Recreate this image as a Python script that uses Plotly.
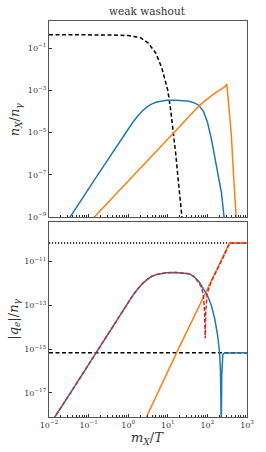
import numpy as np
import plotly.graph_objects as go

# ---- data (log10 values) ----
# top panel: n_X / n_gamma
eq_lx = [-2.0, -1.5, -1.0, -0.5, 0.0, 0.3, 0.5, 0.7, 0.85, 1.0, 1.07, 1.145, 1.2, 1.25, 1.31, 1.358, 1.40]
eq_ly = [-0.37, -0.37, -0.37, -0.38, -0.41, -0.5, -0.75, -1.25, -1.95, -3.0, -3.9, -5.0, -6.0, -7.0, -8.0, -9.0, -9.8]

blue_top_lx = [-1.52, -1.47, -1.1, -0.76, -0.5, -0.3, -0.15, -0.015, 0.1, 0.23, 0.35, 0.475, 0.6, 0.72, 0.85, 0.97, 1.21, 1.4, 1.54, 1.7, 1.78, 1.9, 2.0, 2.1, 2.19, 2.28, 2.355, 2.42, 2.45]
blue_top_ly = [-9.15, -9.0, -7.95, -6.98, -6.24, -5.68, -5.25, -4.87, -4.56, -4.24, -3.99, -3.79, -3.64, -3.555, -3.50, -3.475, -3.47, -3.49, -3.52, -3.62, -3.71, -4.0, -4.5, -5.3, -6.15, -7.0, -7.86, -9.0, -9.5]

orange_top_lx = [-0.9, -0.856, 1.21, 1.5, 1.78, 1.9, 2.05, 2.2, 2.35, 2.45, 2.49, 2.51, 2.55, 2.6, 2.66, 2.72, 2.74]
orange_top_ly = [-9.09, -9.0, -4.89, -4.3, -3.76, -3.55, -3.32, -3.12, -2.94, -2.82, -2.70, -3.2, -4.0, -5.0, -7.0, -9.0, -9.4]

# bottom panel: |q_e| / n_gamma
blue_bot_lx = [-1.9, -1.853, -1.47, -1.1, -0.76, -0.5, -0.3, -0.15, -0.015, 0.1, 0.23, 0.35, 0.475, 0.6, 0.72, 0.85, 0.97, 1.21, 1.4, 1.54, 1.65, 1.78, 1.9, 2.0, 2.1, 2.19, 2.26, 2.31, 2.33, 2.345, 2.35, 2.355, 2.362, 2.372, 2.39, 2.43, 3.0]
blue_bot_ly = [-18.25, -18.1, -17.03, -15.98, -15.01, -14.27, -13.71, -13.28, -12.9, -12.59, -12.27, -12.02, -11.82, -11.67, -11.585, -11.53, -11.505, -11.5, -11.52, -11.55, -11.67, -11.9, -12.25, -12.55, -13.0, -13.65, -14.4, -15.2, -16.0, -17.5, -18.5, -17.5, -16.2, -15.5, -15.25, -15.17, -15.16]

red_bot_lx = [-1.9, -1.853, -1.47, -1.1, -0.76, -0.5, -0.3, -0.15, -0.015, 0.1, 0.23, 0.35, 0.475, 0.6, 0.72, 0.85, 0.97, 1.21, 1.4, 1.54, 1.65, 1.78, 1.86, 1.9, 1.93, 1.945, 1.96, 1.98, 2.0, 2.1, 2.2, 2.3, 2.4, 2.56, 3.0]
red_bot_ly = [-18.25, -18.1, -17.03, -15.98, -15.01, -14.27, -13.71, -13.28, -12.9, -12.59, -12.27, -12.02, -11.82, -11.67, -11.585, -11.53, -11.505, -11.5, -11.52, -11.55, -11.67, -11.95, -12.2, -12.6, -13.3, -14.5, -13.2, -12.6, -12.42, -11.9, -11.55, -11.2, -10.8, -10.15, -10.15]

orange_bot_lx = [0.42, 0.46, 1.2, 1.95, 2.56, 3.0]
orange_bot_ly = [-18.25, -18.1, -15.25, -12.42, -10.15, -10.15]

dotted_level = -10.15
dashed_level = -15.16

x_ticks = [-2, -1, 0, 1, 2, 3]
y_top_ticks = [-1, -3, -5, -7, -9]
y_bot_ticks = [-11, -13, -15, -17]


def p(a):
    return list(10.0 ** np.array(a, dtype=float))


def sup(e):
    return "10<sup>" + ("\u2212" + str(-e) if e < 0 else str(e)) + "</sup>"


BLUE, ORANGE, RED = "#1f77b4", "#ff7f0e", "#d62728"
FONT = "DejaVu Serif"
LW = 1.5

fig = go.Figure()

# top panel
fig.add_trace(go.Scatter(x=p(eq_lx), y=p(eq_ly), mode="lines", line=dict(color="black", width=LW, dash="4px,2.5px"), xaxis="x", yaxis="y"))
fig.add_trace(go.Scatter(x=p(blue_top_lx), y=p(blue_top_ly), mode="lines", line=dict(color=BLUE, width=LW), xaxis="x", yaxis="y"))
fig.add_trace(go.Scatter(x=p(orange_top_lx), y=p(orange_top_ly), mode="lines", line=dict(color=ORANGE, width=LW), xaxis="x", yaxis="y"))

# bottom panel
fig.add_trace(go.Scatter(x=p([-2, 3]), y=p([dotted_level, dotted_level]), mode="lines", line=dict(color="black", width=LW, dash="1.2px,1.8px"), xaxis="x2", yaxis="y2"))
fig.add_trace(go.Scatter(x=p([-2, 3]), y=p([dashed_level, dashed_level]), mode="lines", line=dict(color="black", width=LW, dash="4px,2.5px"), xaxis="x2", yaxis="y2"))
fig.add_trace(go.Scatter(x=p(orange_bot_lx), y=p(orange_bot_ly), mode="lines", line=dict(color=ORANGE, width=LW), xaxis="x2", yaxis="y2"))
fig.add_trace(go.Scatter(x=p(blue_bot_lx), y=p(blue_bot_ly), mode="lines", line=dict(color=BLUE, width=LW), xaxis="x2", yaxis="y2"))
fig.add_trace(go.Scatter(x=p(red_bot_lx), y=p(red_bot_ly), mode="lines", line=dict(color=RED, width=LW, dash="4px,2px"), xaxis="x2", yaxis="y2"))

minor_vals = [m * 10.0 ** d for d in range(-2, 3) for m in range(2, 10)]
axis_common = dict(
    showline=True, linecolor="#555555", linewidth=1.3, mirror=True,
    ticks="inside", ticklen=3, tickwidth=0.8, tickcolor="#333333",
    showgrid=False, zeroline=False,
    tickfont=dict(family=FONT, size=8, color="#333333"),
)

fig.update_layout(
    width=266, height=452,
    margin=dict(l=49, r=13, t=21, b=35),
    paper_bgcolor="white", plot_bgcolor="white",
    showlegend=False,
    xaxis=dict(type="log", range=[-2, 3], domain=[0, 1], anchor="y",
               tickvals=p(x_ticks), showticklabels=False,
               minor=dict(ticks="inside", ticklen=1.8, tickcolor="#333333", tickvals=minor_vals),
               **axis_common),
    yaxis=dict(type="log", range=[-9, 0.28], domain=[0.505, 1.0], anchor="x",
               tickvals=p(y_top_ticks), ticktext=[sup(e) for e in y_top_ticks],
               **axis_common),
    xaxis2=dict(type="log", range=[-2, 3], domain=[0, 1], anchor="y2",
                tickvals=p(x_ticks), ticktext=[sup(e) for e in x_ticks],
                minor=dict(ticks="inside", ticklen=1.8, tickcolor="#333333", tickvals=minor_vals),
                **axis_common),
    yaxis2=dict(type="log", range=[-18.1, -9.19], domain=[0.0, 0.4924], anchor="x2",
                tickvals=p(y_bot_ticks), ticktext=[sup(e) for e in y_bot_ticks],
                **axis_common),
    annotations=[
        dict(text="weak washout", x=0.495, y=1.0, xref="paper", yref="paper", yshift=10,
             yanchor="middle", showarrow=False, font=dict(family=FONT, size=10.5, color="#333333")),
        dict(text="<i>n</i><sub><i>X</i></sub>/<i>n</i><sub><i>γ</i></sub>", x=-0.17, y=0.7525,
             xref="paper", yref="paper", xanchor="center", yanchor="middle", showarrow=False, textangle=-90,
             font=dict(family=FONT, size=13, color="#333333")),
        dict(text="|<i>q</i><sub><i>e</i></sub>|/<i>n</i><sub><i>γ</i></sub>", x=-0.176, y=0.246,
             xref="paper", yref="paper", xanchor="center", yanchor="middle", showarrow=False, textangle=-90,
             font=dict(family=FONT, size=13, color="#333333")),
        dict(text="<i>m</i><sub><i>X</i></sub>/<i>T</i>", x=0.495, y=0.0, xref="paper", yref="paper",
             yshift=-21, yanchor="middle", showarrow=False,
             font=dict(family=FONT, size=13, color="#333333")),
    ],
)

fig.write_html("out.html", config={"displayModeBar": False},
               post_script="document.body.style.margin='0px';document.body.style.overflow='hidden';")
